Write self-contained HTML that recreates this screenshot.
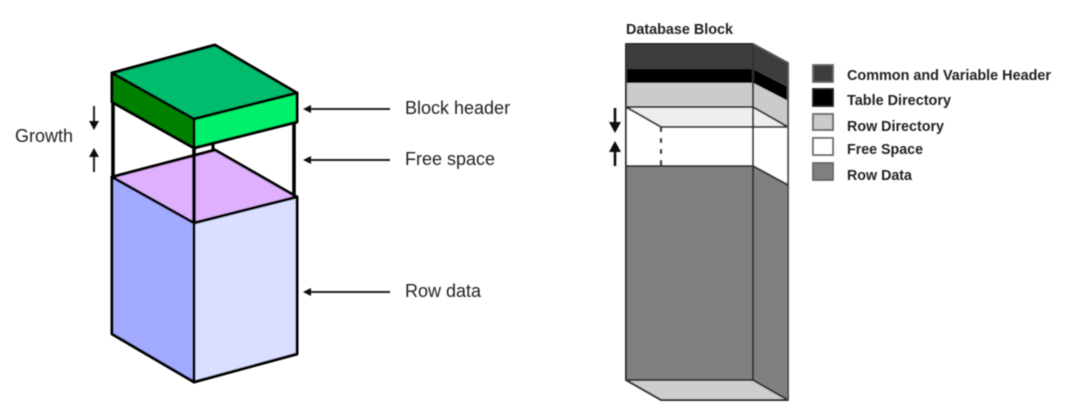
<!DOCTYPE html>
<html><head><meta charset="utf-8"><style>
html,body{margin:0;padding:0;background:#fff;width:1075px;height:420px;overflow:hidden}
svg{display:block}
text{font-family:"Liberation Sans",sans-serif}
</style></head><body>
<svg width="1075" height="420" viewBox="0 0 1075 420">
<defs>
<filter id="b" x="-5%" y="-5%" width="110%" height="110%"><feGaussianBlur stdDeviation="0.55"/></filter>
</defs>
<g filter="url(#b)">
<g stroke="#000" stroke-width="3" stroke-linejoin="round">
<path d="M213 143V151" fill="none" stroke-width="3"/>
<path d="M112 177L215 150L297 197L194 223Z" fill="#deb0fd"/>
<path d="M112 177L194 223V382L112 334Z" fill="#a2aaff"/>
<path d="M194 223L297 197V354L194 382Z" fill="#dadeff"/>
<path d="M113 102V177M294 122V197M194 148V223" fill="none" stroke-width="3.6"/>
<path d="M112 73L215 45L297 93L194 119Z" fill="#05bc6c"/>
<path d="M112 73L194 119V148L112 102Z" fill="#008000"/>
<path d="M194 119L297 93V122L194 148Z" fill="#00f06c"/>
</g>
<g stroke="#222" stroke-width="2" fill="none">
<path d="M94 106V127" /><path d="M94 153V172"/>
<path d="M310 109H390"/><path d="M310 160H390"/><path d="M310 292H390"/>
</g>
<g fill="#111">
<path d="M89 121H99L94 130Z"/><path d="M89 157H99L94 148Z"/>
<path d="M303 109L311 105V113Z"/><path d="M303 160L311 156V164Z"/><path d="M303 292L311 288V296Z"/>
</g>
<g fill="#222" font-size="18">
<text x="15" y="142">Growth</text>
<text x="405" y="114">Block header</text>
<text x="405" y="165">Free space</text>
<text x="405" y="297">Row data</text>
</g>

<g stroke="#333" stroke-width="2" stroke-linejoin="round">
<path d="M626 44H753V69H626Z" fill="#3c3c3c" stroke="none"/>
<path d="M626 69H753V83H626Z" fill="#000" stroke="none"/>
<path d="M626 83H753V107H626Z" fill="#cbcbcb" stroke="none"/>
<path d="M626 107H753V166H626Z" fill="#fff" stroke="none"/>
<path d="M626 166H753V380H626Z" fill="#808080" stroke="none"/>
<path d="M753 44L788 63V87L753 69Z" fill="#3c3c3c" stroke="none"/>
<path d="M753 69L788 87V101L753 83Z" fill="#000" stroke="none"/>
<path d="M753 83L788 101V127L753 107Z" fill="#cbcbcb" stroke="none"/>
<path d="M753 107L788 127V185L753 166Z" fill="#fff" stroke="none"/>
<path d="M753 166L788 185V400L753 380Z" fill="#808080" stroke="none"/>
<path d="M626 107H753L788 127H661Z" fill="#eeeeee"/>
<path d="M626 380H753L788 400H661Z" fill="#cdcdcd"/>
<path d="M626 44H753V380H626Z" fill="none"/>
<path d="M753 44L788 63V400" fill="none" stroke="#555"/>
<path d="M626 166H753L788 185" fill="none"/>
<path d="M661 127V166" fill="none" stroke-width="2.4" stroke-dasharray="5 6"/>
</g>
<g stroke="#111" stroke-width="2.6" fill="none"><path d="M615 108V124"/><path d="M615 150V166"/></g>
<g fill="#111"><path d="M609 122H621L615 133Z"/><path d="M609 152H621L615 141Z"/></g>
<text x="626" y="34" font-size="14.4" font-weight="bold" fill="#222" textLength="107" lengthAdjust="spacingAndGlyphs">Database Block</text>

<g stroke="#666" stroke-width="1.8">
<rect x="813" y="65" width="20" height="17" fill="#3c3c3c"/>
<rect x="813" y="89" width="20" height="17" fill="#000" stroke="#222"/>
<rect x="813" y="114" width="20" height="16" fill="#cbcbcb"/>
<rect x="813" y="138" width="20" height="17" fill="#fff"/>
<rect x="813" y="163" width="20" height="17" fill="#808080"/>
</g>
<g fill="#222" font-size="14.4" font-weight="bold">
<text x="847" y="80" textLength="204" lengthAdjust="spacingAndGlyphs">Common and Variable Header</text>
<text x="847" y="105" textLength="104" lengthAdjust="spacingAndGlyphs">Table Directory</text>
<text x="847" y="131" textLength="97" lengthAdjust="spacingAndGlyphs">Row Directory</text>
<text x="847" y="154" textLength="76" lengthAdjust="spacingAndGlyphs">Free Space</text>
<text x="847" y="180" textLength="65" lengthAdjust="spacingAndGlyphs">Row Data</text>
</g>
</g>
</svg>
</body></html>
